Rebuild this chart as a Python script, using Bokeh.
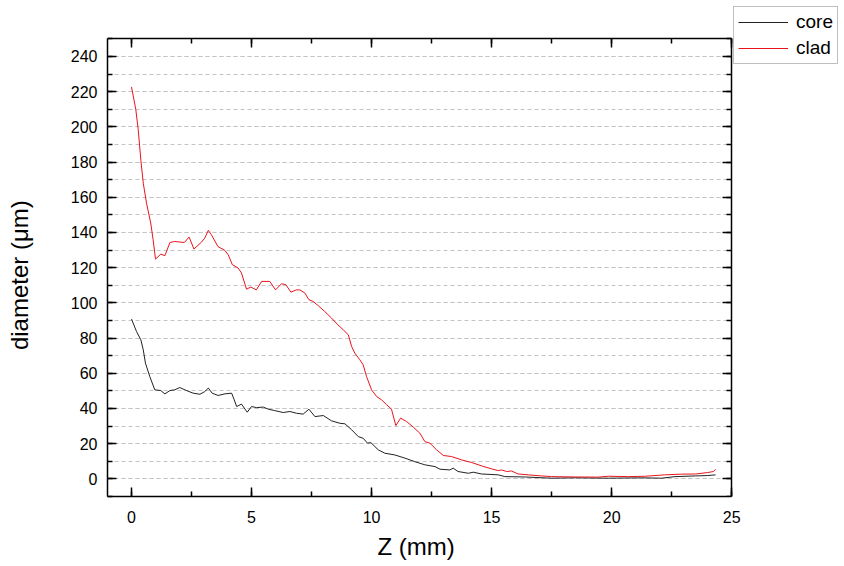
from bokeh.plotting import figure
from bokeh.models import (LinearAxis, Legend, LegendItem, SingleIntervalTicker,
                          Range1d, Title, BoxAnnotation)
from bokeh.embed import file_html
from bokeh.resources import INLINE

# ---- data ----
core_z = [0, 0.21, 0.39, 0.49, 0.58, 0.76, 0.97, 1.22, 1.39, 1.6, 1.8, 2.01, 2.29, 2.57,
          2.85, 3.05, 3.2, 3.36, 3.61, 3.89, 4.17, 4.28, 4.38, 4.58, 4.82, 5.0, 5.21, 5.49,
          5.7, 5.97, 6.32, 6.6, 6.87, 7.15, 7.39, 7.64, 7.99, 8.33, 8.68, 8.89, 9.17, 9.45,
          9.65, 9.83, 9.97, 10.28, 10.55, 10.97, 11.39, 11.8, 12.22, 12.64, 12.85, 13.26,
          13.4, 13.6, 14.03, 14.24, 14.58, 15.28, 15.55, 16.38, 17.5, 18.47, 19.86, 21.25,
          22.08, 22.64, 23.5, 24.0, 24.33]
core_d = [90.8, 83.7, 79, 73.3, 65.8, 58.2, 50.6, 50.2, 48.3, 50.2, 50.6, 51.9, 50.2, 48.7,
          48.1, 49.6, 51.6, 48.7, 47.4, 48.3, 48.7, 44.9, 41.1, 42.5, 37.9, 41.1, 40.5, 40.8,
          39.6, 38.8, 37.7, 38.3, 37.3, 36.8, 39.6, 35.4, 36.0, 33.0, 31.6, 31.3, 27.9, 24.0,
          23.1, 20.3, 20.6, 16.5, 14.6, 13.6, 11.8, 9.8, 8.0, 7.0, 5.5, 5.1,
          6.1, 4.2, 3.2, 3.8, 2.8, 2.3, 1.3, 1.1, 0.4, 0.6, 0.4, 0.6,
          0.4, 1.3, 1.7, 1.9, 2.3]

clad_z = [0, 0.18, 0.28, 0.39, 0.49, 0.625, 0.8, 0.9, 1.0, 1.22, 1.39, 1.6, 1.8, 2.2, 2.4,
          2.6, 2.92, 3.05, 3.2, 3.33, 3.6, 3.89, 4.03, 4.2, 4.44, 4.58, 4.79, 4.97, 5.2,
          5.42, 5.76, 6.0, 6.25, 6.43, 6.64, 6.87, 7.01, 7.22, 7.39, 7.57, 7.78, 8.05, 8.33,
          8.6, 8.82, 9.03, 9.17, 9.3, 9.51, 9.65, 9.79, 10.0, 10.21, 10.42, 10.63, 10.83,
          11.01, 11.21, 11.46, 11.74, 12.01, 12.22, 12.43, 12.71, 12.99, 13.33, 13.75,
          14.17, 14.58, 15.0, 15.28, 15.42, 15.63, 15.83, 16.1, 16.53, 17.08, 17.5, 18.46,
          19.45, 19.86, 20.7, 21.4, 21.8, 22.2, 22.9, 23.5, 24.0, 24.24, 24.33]
clad_d = [222.7, 209.8, 198.4, 181, 168, 156.7, 145.4, 135.9, 124.9, 127.7, 126.8, 134.3,
          134.9, 134.3, 137.4, 130.6, 134.6, 136.8, 141.2, 138.7, 132, 129.8, 127.3, 121.7,
          119.8, 117, 107.8, 109, 107.4, 112.2, 112.2, 107.4, 110.9, 110.3, 106.1, 107.4,
          107.4, 105.6, 101.8, 100.8, 98.4, 95.1, 91.4, 87.5, 84.7, 81.9, 75.2, 71.5, 67.7,
          64.8, 58.2, 50.6, 46.8, 44.9, 42.1, 39.6, 30.3, 34.5, 32.6, 29.4, 26.0, 21.2,
          20.3, 16.5, 13.3, 12.7, 10.8, 9.3, 7.4, 5.7, 4.7, 5.1, 4.2, 4.5, 2.8, 2.3, 1.7,
          1.3, 1.1, 1.0, 1.5, 1.3, 1.5, 1.9, 2.3, 2.7, 2.8, 3.6, 4.2, 5.5]

series_names = ["core", "clad"]
series_colors = ["#222222", "#e8141c"]
x_label = "Z (mm)"
y_label = "diameter (μm)"

X_MIN, X_MAX = -1, 25        # plotted box in data units
Y_MIN, Y_MAX = -10, 250
X_VIEW_MAX = 29.7            # frame extends to the window edge (room for the legend)
Y_VIEW_MAX = 271.8

FONT = "Liberation Sans"

p = figure(width=844, height=566, output_backend="svg", toolbar_location=None,
           x_range=Range1d(X_MIN, X_VIEW_MAX), y_range=Range1d(Y_MIN, Y_VIEW_MAX),
           min_border_left=107, min_border_right=0, min_border_top=0,
           min_border_bottom=70)
p.outline_line_color = None
p.background_fill_color = "white"
p.border_fill_color = "white"

r_core = p.line(core_z, core_d, line_color=series_colors[0], line_width=1)
r_clad = p.line(clad_z, clad_d, line_color=series_colors[1], line_width=1)

xt = SingleIntervalTicker(interval=5, num_minor_ticks=2)
yt = SingleIntervalTicker(interval=20, num_minor_ticks=2)

def style_axis(ax, labels=True):
    ax.major_tick_in = 9
    ax.major_tick_out = 0
    ax.minor_tick_in = 5
    ax.minor_tick_out = 0
    ax.major_tick_line_color = "black"
    ax.minor_tick_line_color = "black"
    ax.major_tick_line_width = 1.5
    ax.minor_tick_line_width = 1.5
    ax.axis_line_color = "black"
    ax.axis_line_width = 1.5
    ax.major_label_text_font = FONT
    if labels:
        ax.major_label_text_font_size = "16px"
        ax.major_label_text_color = "black"
    else:
        ax.major_label_text_font_size = "0px"
        ax.major_label_text_color = None
        ax.major_label_standoff = 0

xa = p.xaxis[0]
xa.ticker = xt
xa.bounds = (X_MIN, X_MAX)
style_axis(xa)
xa.major_label_standoff = 14

ya = p.yaxis[0]
ya.ticker = yt
ya.bounds = (Y_MIN, Y_MAX)
style_axis(ya)
ya.major_label_standoff = 10
# trailing no-break spaces shift the centred label down to the box's middle
ya.axis_label = y_label + "\u00a0" * 8
ya.axis_label_text_font = FONT
ya.axis_label_text_font_size = "24px"
ya.axis_label_text_font_style = "normal"
ya.axis_label_text_color = "black"
ya.axis_label_standoff = 35

top = LinearAxis(ticker=SingleIntervalTicker(interval=5, num_minor_ticks=2),
                 fixed_location=Y_MAX, bounds=(X_MIN, X_MAX))
style_axis(top, labels=False)
p.add_layout(top, "above")

right = LinearAxis(ticker=SingleIntervalTicker(interval=20, num_minor_ticks=2),
                   fixed_location=X_MAX, bounds=(Y_MIN, Y_MAX))
style_axis(right, labels=False)
p.add_layout(right, "right")

p.xgrid.visible = False
p.ygrid.ticker = yt
p.ygrid.bounds = (Y_MIN, Y_MAX)
p.ygrid.grid_line_color = "#c4c4c4"
p.ygrid.grid_line_dash = "4 3"
p.ygrid.grid_line_width = 1
p.ygrid.minor_grid_line_color = "#c4c4c4"
p.ygrid.minor_grid_line_dash = "4 3"
p.ygrid.minor_grid_line_width = 1
try:
    p.ygrid.cross_bounds = (X_MIN, X_MAX)
except Exception:
    p.add_layout(BoxAnnotation(left=X_MAX + 0.05, fill_color="white", fill_alpha=1,
                               line_color=None, level="underlay"))

x_title = Title(text=x_label, align="left", offset=270, text_font=FONT,
                text_font_size="24px", text_font_style="normal", text_color="black",
                standoff=10)
p.add_layout(x_title, "below")

legend = Legend(items=[LegendItem(label=series_names[0], renderers=[r_core]),
                       LegendItem(label=series_names[1], renderers=[r_clad])],
                location=(626, 432))
legend.label_text_font = FONT
legend.label_text_font_size = "19px"
legend.label_text_color = "black"
legend.glyph_width = 50
legend.glyph_height = 22
legend.label_height = 22
legend.label_standoff = 8
legend.padding = 4
legend.spacing = 4
legend.margin = 0
legend.border_line_color = "#808080"
legend.border_line_width = 1.5
legend.background_fill_color = "white"
legend.background_fill_alpha = 1
p.add_layout(legend)

open("out.html", "w").write(file_html(p, INLINE))
